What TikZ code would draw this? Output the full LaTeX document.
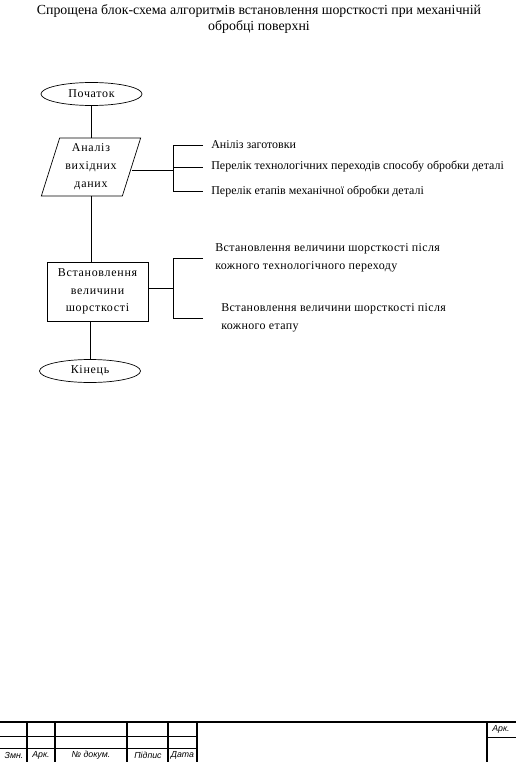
\documentclass[tikz,border=0pt]{standalone}
\usepackage{fontspec}
\setmainfont{Liberation Serif}
\newfontfamily\stampfont{Liberation Sans}
\newfontfamily\spacedfont[LetterSpace=6]{Liberation Serif}
\newfontfamily\slightfont[LetterSpace=3]{Liberation Serif}
\usetikzlibrary{shapes.geometric}
\begin{document}
\begin{tikzpicture}[x=1bp,y=-1bp, line width=0.7bp,
 every node/.style={font=\spacedfont\fontsize{12}{18}\selectfont},
 titlelbl/.style={font=\fontsize{13.9}{15}\selectfont,inner sep=0},
 term/.style={ellipse,draw,minimum width=101bp,minimum height=23bp,inner sep=0},
 io/.style={trapezium,draw,trapezium left angle=72,trapezium right angle=108,minimum width=100bp,minimum height=58bp,trapezium stretches=true,inner sep=0,align=center},
 proc/.style={rectangle,draw,minimum width=101bp,minimum height=59bp,inner sep=0,align=center,font=\spacedfont\fontsize{12}{17.5}\selectfont},
 lbl/.style={anchor=west,inner sep=0,align=left,font=\fontsize{12}{18}\selectfont},
 lbltwo/.style={lbl,font=\slightfont\fontsize{12}{17.5}\selectfont},
 stampthick/.style={line width=1.3bp},
 stampthin/.style={line width=0.6bp},
 stamplbl/.style={font=\stampfont\itshape\fontsize{8.8}{9}\selectfont,inner sep=0}]
\useasboundingbox (0,0) rectangle (530,762);
% title
\node[titlelbl] (t1) at (259,11) {Спрощена блок-схема алгоритмів встановлення шорсткості при механічній};
\node[titlelbl] (t2) at (259,27) {обробці поверхні};
% flow
\node[term] (start) at (91.5,94) {Початок};
\node[io] (an) at (91,167) {Аналіз\\вихідних\\даних};
\node[proc] (set) at (97.5,291.5) {Встановлення\\величини\\шорсткості};
\node[term] (end) at (90,371) {Кінець};
\draw (start.south -| an.north) -- (an.north);
\draw (an.south) -- (an.south |- set.north);
\draw (end.north |- set.south) -- (end.north);
% bracket 1
\node[lbl] (l1) at (211,145) {Аніліз заготовки};
\node[lbl] (l2) at (211,167) {Перелік технологічних переходів способу обробки деталі};
\node[lbl] (l3) at (211,191) {Перелік етапів механічної обробки деталі};
\coordinate (j1) at (173,170);
\draw ([yshift=-3bp]an.east) -- ([yshift=-3bp]an.east -| j1);
\draw ([xshift=-8bp]l1.west) -| ([xshift=-38bp]l3.west) -- ([xshift=-8bp]l3.west);
\draw (l2.west -| j1) -- ([xshift=-8bp]l2.west);
% bracket 2
\node[lbltwo] (m1) at (215,258) {Встановлення величини шорсткості після\\кожного технологічного переходу};
\node[lbltwo] (m2) at (221,318) {Встановлення величини шорсткості після\\кожного етапу};
\coordinate (j2) at (173,288);
\draw (set.east |- j2) -- (j2);
\draw ([xshift=-12bp]m1.west) -| (j2);
\draw ([xshift=-18bp]m2.west) -| (j2);
% stamp
\draw[stampthick] (0,722) -- (516,722);
\foreach \x in {27,55,127,168,197,487} \draw[stampthick] (\x,722) -- (\x,762);
\draw[stampthin] (0,736) -- (197,736);
\draw[stampthin] (0,748) -- (197,748);
\draw[stampthin] (487,737) -- (516,737);
\node[stamplbl] (s1) at (14,755.5) {Змн.};
\node[stamplbl] (s2) at (41,755.5) {Арк.};
\node[stamplbl] (s3) at (91,755.5) {№ докум.};
\node[stamplbl] (s4) at (148,755.5) {Підпис};
\node[stamplbl] (s5) at (182.5,755.5) {Дата};
\node[stamplbl] (s6) at (501,729.5) {Арк.};
\end{tikzpicture}
\end{document}
